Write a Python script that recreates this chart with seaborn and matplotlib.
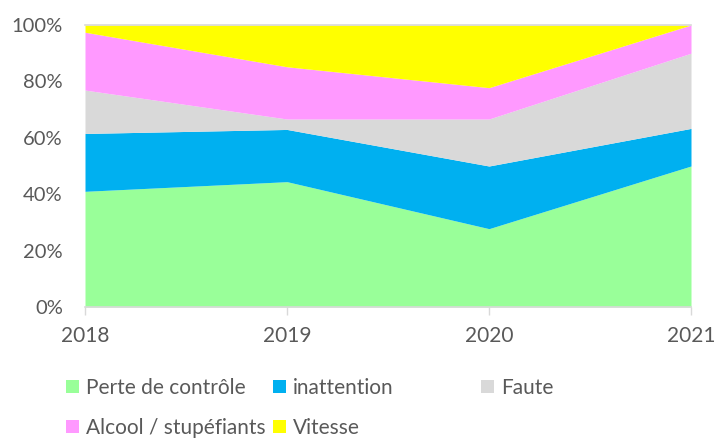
import matplotlib
matplotlib.use("Agg")
import matplotlib.pyplot as plt
from matplotlib.patches import Patch
import numpy as np
import pandas as pd
import seaborn as sns

### Data (counts per year, shown as share of total) ###
years = [2018, 2019, 2020, 2021]
categories = ["Perte de contrôle", "inattention", "Faute", "Alcool / stupéfiants", "Vitesse"]
perte_controle = [16, 12, 5, 15]
inattention = [8, 5, 4, 4]
faute = [6, 1, 3, 8]
alcool = [8, 5, 2, 3]
vitesse = [1, 4, 4, 0]
colors = ["#99FF99", "#00B0F0", "#D9D9D9", "#FF99FF", "#FFFF00"]
y_ticks = [0, 0.2, 0.4, 0.6, 0.8, 1.0]

df = pd.DataFrame(
    {"Perte de contrôle": perte_controle, "inattention": inattention, "Faute": faute,
     "Alcool / stupéfiants": alcool, "Vitesse": vitesse},
    index=years,
)
shares = df.div(df.sum(axis=1), axis=0)

### Style ###
sns.set_theme(style="white")
plt.rcParams["font.family"] = ["Lato", "DejaVu Sans"]
TEXT_COLOR = "#595959"
FONT_SIZE = 15

fig = plt.figure(figsize=(7.16, 4.41), dpi=100)
ax = fig.add_axes([85 / 716, 1 - 307 / 441, (691 - 85) / 716, (307 - 25) / 441])

ax.stackplot(shares.index, *[shares[c].values for c in categories], colors=colors, linewidth=0)

ax.set_xlim(years[0], years[-1])
ax.set_ylim(0, 1)
ax.set_xticks(years)
ax.set_xticklabels([str(y) for y in years], fontsize=FONT_SIZE, color=TEXT_COLOR)
ax.set_yticks(y_ticks)
ax.set_yticklabels([f"{int(round(t * 100))}%" for t in y_ticks], fontsize=14.5, color=TEXT_COLOR)
ax.tick_params(axis="y", length=0, pad=16)
ax.tick_params(axis="x", direction="out", length=6, width=1, color="#D9D9D9", pad=8, bottom=True)

for side in ["left", "right"]:
    ax.spines[side].set_visible(False)
ax.spines["top"].set_color("#D9D9D9")
ax.spines["bottom"].set_color("#D9D9D9")
ax.spines["bottom"].set_linewidth(1.2)
ax.spines["top"].set_linewidth(1.2)

### Legend (Excel-like layout, one entry at a time) ###
legend_pos = [(66, 388), (273, 388), (481, 388), (66, 428), (273, 428)]
for label, col, (px, py) in zip(categories, colors, legend_pos):
    fig.legend(
        handles=[Patch(facecolor=col, edgecolor="none")], labels=[label],
        loc="center left", bbox_to_anchor=(px / 716, 1 - py / 441),
        frameon=False, borderpad=0, borderaxespad=0, handlelength=0.6, handleheight=0.6,
        handletextpad=0.35, fontsize=FONT_SIZE, labelcolor=TEXT_COLOR,
    )

fig.savefig("out.png", dpi=100)
